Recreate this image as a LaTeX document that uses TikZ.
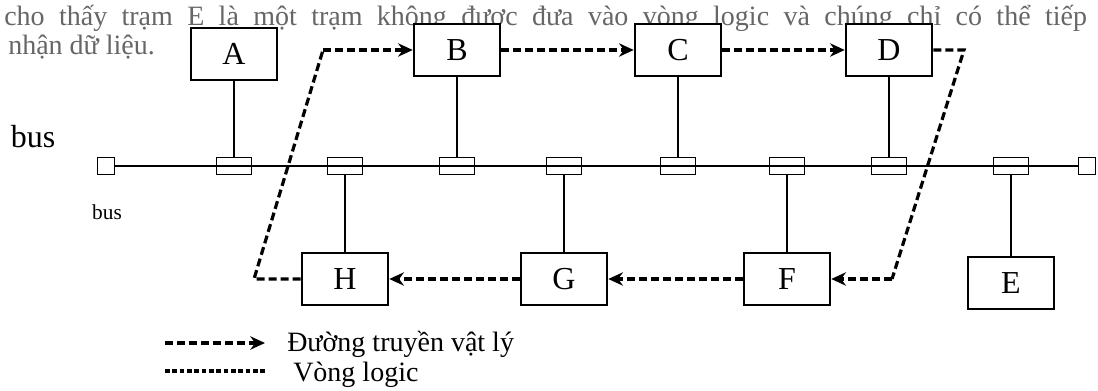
\documentclass[tikz,border=0pt]{standalone}
\usepackage{fontspec}
\setmainfont{Liberation Serif}
\usetikzlibrary{arrows.meta}

\tikzset{
  station/.style={rectangle, draw, line width=1.4pt, fill=white, minimum width=65pt, minimum height=39pt, inner sep=0pt, font=\fontsize{24}{26}\selectfont},
  tap/.style={rectangle, draw, line width=1.1pt, minimum width=26pt, minimum height=12.5pt, inner sep=0pt},
  term/.style={rectangle, draw, line width=1.1pt, minimum size=13pt, inner sep=0pt},
  drop/.style={line width=1.1pt},
  phys/.style={line width=2.4pt, dash pattern=on 6pt off 3pt},
  physarrow/.style={phys, -{Stealth[length=11pt, width=10pt]}},
  logic/.style={line width=2.4pt, dash pattern=on 3.5pt off 2pt},
  prose/.style={anchor=base west, inner sep=0pt, text=black!60, font=\fontsize{21}{23}\selectfont},
  legend/.style={anchor=base west, inner sep=0pt, font=\fontsize{21}{23}\selectfont}
}

\begin{document}
\begin{tikzpicture}[x=0.75pt, y=-0.75pt]
      \useasboundingbox (0,0) rectangle (1098,391);

      % text above the figure
      \node[prose] (txt1) at (4,26) {\hbox to 812pt{cho thấy trạm E là một trạm không được đưa vào vòng logic và chúng chỉ có thể tiếp}};
      \node[prose] (txt2) at (8,55) {nhận dữ liệu.};

      % bus with its two terminators
      \node[term] (tl) at (106,166) {};
      \node[term] (tr) at (1087,166) {};
      \draw[line width=1.1pt] (tl) -- (tr);

      \node[font=\fontsize{24}{26}\selectfont] (bus1) at (33,137) {bus};
      \node[font=\fontsize{16}{18}\selectfont] (bus2) at (107,212) {bus};

      % taps on the bus
      \node[tap] (tA) at (234,166) {};
      \node[tap] (tH) at (345,166) {};
      \node[tap] (tB) at (457,166) {};
      \node[tap] (tG) at (564,166) {};
      \node[tap] (tC) at (678,166) {};
      \node[tap] (tF) at (787,166) {};
      \node[tap] (tD) at (889,166) {};
      \node[tap] (tE) at (1011,166) {};

      % stations
      \node[station] (A) at (234,54) {A};
      \node[station] (B) at (457,50) {B};
      \node[station] (C) at (678,50) {C};
      \node[station] (D) at (889,50) {D};

      \node[station] (H) at (345,279) {H};
      \node[station] (G) at (564,279) {G};
      \node[station] (F) at (787,279) {F};
      \node[station] (E) at (1011,283) {E};

      \draw[drop] (A) -- (tA);
      \draw[drop] (B) -- (tB);
      \draw[drop] (C) -- (tC);
      \draw[drop] (D) -- (tD);
      \draw[drop] (H) -- (tH);
      \draw[drop] (G) -- (tG);
      \draw[drop] (F) -- (tF);
      \draw[drop] (E) -- (tE);

      % physical ring
      \coordinate (c1) at (964,50);
      \coordinate (c2) at (892,279);
      \coordinate (c3) at (254,279);
      \coordinate (c4) at (323,50);

      \draw[physarrow] (B) -- (C);
      \draw[physarrow] (C) -- (D);
      \draw[phys] (D.east) -- (c1) -- (c2);
      \draw[physarrow] (c2) -- (F);
      \draw[physarrow] (F) -- (G);
      \draw[physarrow] (G) -- (H);
      \draw[phys] (H.west) -- (c3) -- (c4);
      \draw[physarrow] (c4) -- (B);

      % legend
      \coordinate (l1) at (165,343);
      \coordinate (l2) at (265,343);
      \coordinate (l3) at (165,371);
      \coordinate (l4) at (265,371);
      \draw[physarrow] (l1) -- (l2);
      \draw[logic] (l3) -- (l4);
      \node[legend] (lg1) at (287,351) {Đường truyền vật lý};
      \node[legend] (lg2) at (293,381) {Vòng logic};

    \end{tikzpicture}
\end{document}
